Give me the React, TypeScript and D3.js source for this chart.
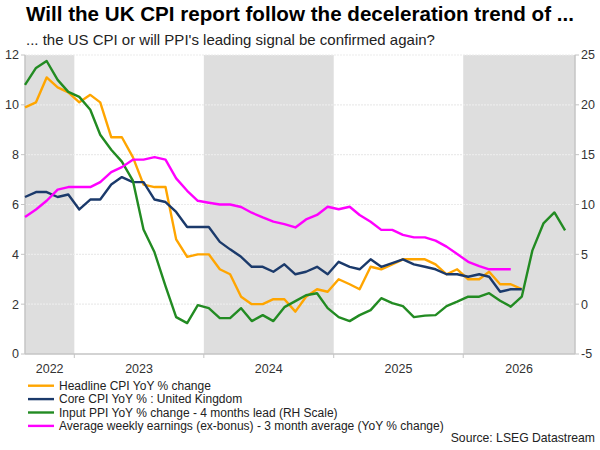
import React from "react";
import * as d3 from "d3";

const headlineCPI = [9.9,10.1,11.1,10.7,10.5,10.1,10.4,10.1,8.7,8.7,7.9,6.8,6.7,6.7,4.6,3.9,4.0,4.0,3.4,3.2,2.3,2.0,2.0,2.2,2.2,1.7,2.3,2.6,2.5,3.0,2.8,2.6,3.5,3.4,3.6,3.8,3.8,3.8,3.6,3.2,3.4,3.0,3.0,3.3,2.8,2.8,2.6];
const coreCPI = [6.3,6.5,6.5,6.3,6.4,5.8,6.2,6.2,6.8,7.1,6.9,6.9,6.2,6.1,5.7,5.1,5.1,5.1,4.5,4.2,3.9,3.5,3.5,3.3,3.6,3.2,3.3,3.5,3.2,3.7,3.5,3.4,3.8,3.5,3.65,3.8,3.6,3.5,3.4,3.2,3.2,3.1,3.2,3.1,2.5,2.6,2.6];
const inputPPI = [22.0,23.7,24.4,22.5,21.3,20.8,19.5,17.0,15.5,14.3,12.4,7.5,5.2,1.8,-1.3,-1.9,-0.1,-0.4,-1.4,-1.4,-0.4,-1.7,-1.1,-1.7,-0.3,0.3,0.9,1.1,-0.4,-1.3,-1.7,-1.1,-0.6,0.6,0.1,-0.2,-1.3,-1.15,-1.1,-0.2,0.25,0.75,0.75,1.1,0.35,-0.25,0.75,5.4,8.1,9.2,7.4];
const weeklyEarnings = [5.5,5.8,6.15,6.6,6.7,6.7,6.7,6.9,7.3,7.5,7.8,7.8,7.9,7.8,7.05,6.55,6.15,6.07,6.0,6.0,5.9,5.67,5.48,5.31,5.21,5.08,5.4,5.58,5.91,5.81,5.91,5.58,5.31,4.98,4.98,4.78,4.68,4.68,4.55,4.31,4.01,3.7,3.53,3.4,3.4,3.4];

const leftTicks = [0, 2, 4, 6, 8, 10, 12];
const rightTicks = [-5, 0, 5, 10, 15, 20, 25];
const years = [2022, 2023, 2024, 2025, 2026];
const shadedYears = [2022, 2024, 2026];

const seriesNames = [
  "Headline CPI YoY % change",
  "Core CPI YoY % : United Kingdom",
  "Input PPI YoY % change - 4 months lead (RH Scale)",
  "Average weekly earnings (ex-bonus) - 3 month average (YoY % change)",
];
const seriesColors = ["#FFA500", "#1B3A6B", "#228B22", "#FF00FF"];

const startDate = new Date(2022, 7, 15);
const endDate = new Date(2026, 10, 12);
const dateAt = (i: number) => new Date(2022, 7 + i, 15);

const W = 600, H = 450;
const L = 25, R = 575, T = 55, B = 354;
const font = "'Liberation Sans', Arial, sans-serif";

export default function App() {
  const x = d3.scaleTime().domain([startDate, endDate]).range([L, R]);
  const yL = d3.scaleLinear().domain([0, 12]).range([B, T]);
  const yR = d3.scaleLinear().domain([-5, 25]).range([B, T]);

  const lineL = d3.line<number>().x((_, i) => x(dateAt(i))).y((d) => yL(d));
  const lineR = d3.line<number>().x((_, i) => x(dateAt(i))).y((d) => yR(d));

  const clampX = (d: Date) => Math.max(L, Math.min(R, x(d)));
  const bands = years.map((yr) => {
    const x0 = clampX(new Date(yr, 0, 1));
    const x1 = clampX(new Date(yr + 1, 0, 1));
    return { yr, x0, x1 };
  });

  const paths = [
    lineL(headlineCPI),
    lineL(coreCPI),
    lineR(inputPPI),
    lineL(weeklyEarnings),
  ];

  return (
    <svg width={W} height={H} style={{ position: "absolute", left: 0, top: 0, background: "#fff" }} fontFamily={font}>
      <text x={26} y={21} fontSize={20.6} fontWeight="bold" fill="#000">Will the UK CPI report follow the deceleration trend of ...</text>
      <text x={26} y={44.5} fontSize={15} fill="#222">... the US CPI or will PPI's leading signal be confirmed again?</text>

      {bands.filter((b) => shadedYears.includes(b.yr)).map((b) => (
        <rect key={b.yr} x={b.x0} y={T} width={b.x1 - b.x0} height={B - T} fill="#DEDEDE" />
      ))}

      {leftTicks.filter((t) => t > 0).map((t) => (
        <line key={t} x1={L} x2={R} y1={yL(t)} y2={yL(t)} stroke="#EBEBEB" strokeWidth={1.2} strokeDasharray="2,1" />
      ))}

      <line x1={L} x2={L} y1={T} y2={B} stroke="#C4C4C4" strokeWidth={1.5} />
      <line x1={R} x2={R} y1={T} y2={B} stroke="#C4C4C4" strokeWidth={1.5} />
      <line x1={L} x2={R} y1={B} y2={B} stroke="#C4C4C4" strokeWidth={1.5} />

      {leftTicks.map((t) => (
        <g key={t}>
          <line x1={L - 4} x2={L} y1={yL(t)} y2={yL(t)} stroke="#C4C4C4" strokeWidth={1} />
          <text x={19} y={yL(t)} dy="0.35em" textAnchor="end" fontSize={12.5} fill="#333">{t}</text>
        </g>
      ))}
      {rightTicks.map((t) => (
        <g key={t}>
          <line x1={R} x2={R + 4} y1={yR(t)} y2={yR(t)} stroke="#C4C4C4" strokeWidth={1} />
          <text x={581} y={yR(t)} dy="0.35em" textAnchor="start" fontSize={12.5} fill="#333">{t}</text>
        </g>
      ))}

      {years.slice(1).map((yr) => (
        <line key={yr} x1={x(new Date(yr, 0, 1))} x2={x(new Date(yr, 0, 1))} y1={B} y2={B + 4} stroke="#C4C4C4" strokeWidth={1} />
      ))}
      {bands.map((b) => (
        <text key={b.yr} x={(b.x0 + b.x1) / 2} y={373} textAnchor="middle" fontSize={12.5} fill="#333">{b.yr}</text>
      ))}

      {paths.map((p, i) => (
        <path key={i} d={p || ""} fill="none" stroke={seriesColors[i]} strokeWidth={2.4} strokeLinejoin="round" />
      ))}

      {seriesNames.map((n, i) => (
        <g key={n} transform={`translate(0,${385.7 + i * 13.4})`}>
          <line x1={28} x2={54} y1={0} y2={0} stroke={seriesColors[i]} strokeWidth={2.4} />
          <text x={59} y={0} dy="0.35em" fontSize={12} fill="#222">{n}</text>
        </g>
      ))}

      <text x={595} y={442} textAnchor="end" fontSize={12.2} fill="#222">Source: LSEG Datastream</text>
    </svg>
  );
}
